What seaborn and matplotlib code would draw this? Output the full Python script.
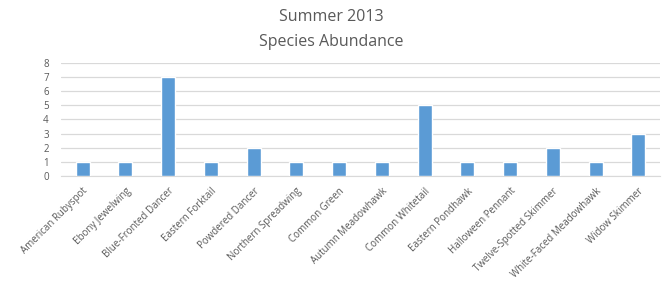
import matplotlib
matplotlib.use("Agg")
import matplotlib.pyplot as plt
import seaborn as sns
import pandas as pd

species = ["American Rubyspot", "Ebony Jewelwing", "Blue-Fronted Dancer", "Eastern Forktail",
           "Powdered Dancer", "Northern Spreadwing", "Common Green", "Autumn Meadowhawk",
           "Common Whitetail", "Eastern Pondhawk", "Halloween Pennant", "Twelve-Spotted Skimmer",
           "White-Faced Meadowhawk", "Widow Skimmer"]
counts = [1, 1, 7, 1, 2, 1, 1, 1, 5, 1, 1, 2, 1, 3]

df = pd.DataFrame({"species": species, "count": counts})

sns.set_style("white")
plt.rcParams["font.family"] = ["Open Sans", "DejaVu Sans"]

fig = plt.figure(figsize=(6.65, 2.9), dpi=100)
ax = fig.add_axes([0.092, 0.393, 0.9, 0.39])

sns.barplot(data=df, x="species", y="count", color="#5B9BD5", width=0.33,
            saturation=1, ax=ax, zorder=3)

ax.set_ylim(0, 8)
ax.set_yticks(range(0, 9))
ax.set_xlim(-0.5, len(species) - 0.5)
ax.yaxis.grid(True, color="#D9D9D9", linewidth=0.9, zorder=0)
ax.set_axisbelow(True)
for s in ["top", "right", "left"]:
    ax.spines[s].set_visible(False)
ax.spines["bottom"].set_color("#D9D9D9")
ax.set_xlabel("")
ax.set_ylabel("")
ax.tick_params(axis="both", length=0, labelsize=7, labelcolor="#595959")
ax.tick_params(axis="x", pad=7)
ax.tick_params(axis="y", pad=9)
plt.setp(ax.get_xticklabels(), rotation=45, ha="right", rotation_mode="anchor")

fig.text(0.498, 0.94, "Summer 2013", ha="center", va="center", fontsize=11.5, color="#595959")
fig.text(0.498, 0.855, "Species Abundance", ha="center", va="center", fontsize=11.5, color="#595959")

fig.savefig("out.png", dpi=100)
